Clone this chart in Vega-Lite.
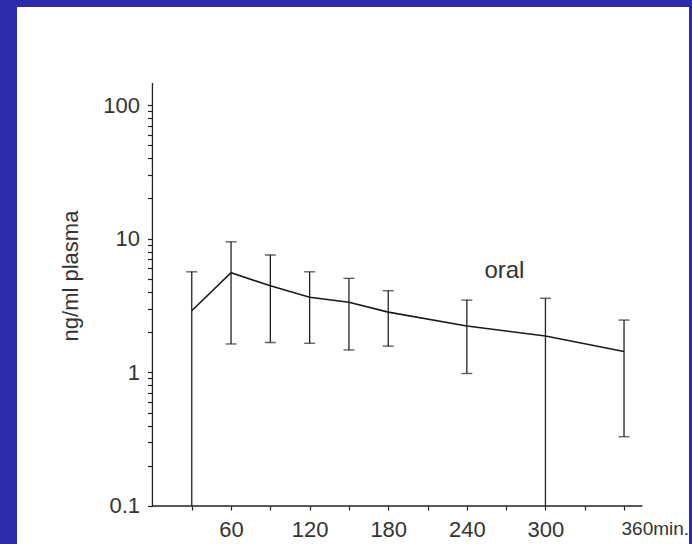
{
  "$schema": "https://vega.github.io/schema/vega-lite/v6.json",
  "autosize": {"type": "none"},
  "width": 672,
  "height": 537,
  "padding": {"left": 17, "top": 7, "right": 3, "bottom": 0},
  "background": "#2b2bab",
  "config": {"view": {"fill": "white", "stroke": null}, "font": "Liberation Sans"},
  "datasets": {
    "pk": [
      {"x": 30, "mean": 2.89, "hi": 5.65, "lo": 0.1},
      {"x": 60, "mean": 5.56, "hi": 9.48, "lo": 1.63},
      {"x": 90, "mean": 4.44, "hi": 7.54, "lo": 1.67},
      {"x": 120, "mean": 3.64, "hi": 5.65, "lo": 1.65},
      {"x": 150, "mean": 3.34, "hi": 5.05, "lo": 1.47},
      {"x": 180, "mean": 2.82, "hi": 4.08, "lo": 1.57},
      {"x": 240, "mean": 2.22, "hi": 3.47, "lo": 0.98},
      {"x": 300, "mean": 1.87, "hi": 3.58, "lo": 0.1},
      {"x": 360, "mean": 1.43, "hi": 2.46, "lo": 0.33}
    ],
    "axes": [
      {"x": 0, "x2": 374, "y": 0.1, "y2": 0.1},
      {"x": 0, "x2": 0, "y": 0.1, "y2": 146}
    ],
    "note": [{"x": 268.7, "y": 5.05, "label": "oral"}]
  },
  "layer": [
    {
      "data": {"name": "axes"},
      "mark": {"type": "rule", "color": "#222", "strokeWidth": 1.3},
      "encoding": {
        "x": {
          "field": "x", "type": "quantitative",
          "scale": {"domain": [-103.4, 409.6], "nice": false, "zero": false},
          "axis": {
            "orient": "bottom", "offset": -38, "domain": false, "grid": false,
            "values": [30, 60, 90, 120, 150, 180, 210, 240, 270, 300, 330, 360],
            "labelExpr": "datum.value % 60 == 0 ? (datum.value == 360 ? '360min.' : datum.label) : ''",
            "labelAlign": {"condition": {"test": "datum.value == 360", "value": "left"}, "value": "center"},
            "labelOffset": {"condition": {"test": "datum.value == 360", "value": -3}, "value": 0},
            "labelFontSize": {"condition": {"test": "datum.value == 360", "value": 19}, "value": 22},
            "labelColor": "#333", "labelFont": "Liberation Sans",
            "tickSize": 4, "tickColor": "#222", "tickWidth": 1.2,
            "labelPadding": 9, "labelFlush": false, "labelOverlap": false,
            "title": null
          }
        },
        "x2": {"field": "x2"},
        "y": {
          "field": "y", "type": "quantitative",
          "scale": {"type": "log", "domain": [0.05196, 541], "nice": false, "zero": false},
          "axis": {
            "orient": "left", "offset": -135.5, "domain": false, "grid": false,
            "values": [0.1, 0.2, 0.3, 0.4, 0.5, 0.6, 0.7, 0.8, 0.9, 1, 2, 3, 4, 5, 6, 7, 8, 9, 10, 20, 30, 40, 50, 60, 70, 80, 90, 100],
            "labelExpr": "datum.value == 0.1 ? '0.1' : datum.value == 1 ? '1' : datum.value == 10 ? '10' : datum.value == 100 ? '100' : ''",
            "labelFontSize": 22, "labelColor": "#333", "labelFont": "Liberation Sans",
            "tickSize": 5, "tickColor": "#222", "tickWidth": 1.2,
            "labelPadding": 8, "labelFlush": false, "labelOverlap": false,
            "title": "ng/ml plasma", "titleFontSize": 22, "titleFontWeight": "normal",
            "titleColor": "#333", "titleFont": "Liberation Sans", "titlePadding": 20
          }
        },
        "y2": {"field": "y2"}
      }
    },
    {
      "data": {"name": "pk"},
      "mark": {"type": "rule", "color": "#222", "strokeWidth": 1.3},
      "encoding": {
        "x": {"field": "x", "type": "quantitative"},
        "y": {"field": "lo", "type": "quantitative"},
        "y2": {"field": "hi"}
      }
    },
    {
      "data": {"name": "pk"},
      "mark": {"type": "tick", "orient": "horizontal", "size": 11, "thickness": 1.4, "color": "#222"},
      "encoding": {
        "x": {"field": "x", "type": "quantitative"},
        "y": {"field": "hi", "type": "quantitative"}
      }
    },
    {
      "data": {"name": "pk"},
      "transform": [{"filter": "datum.lo > 0.1"}],
      "mark": {"type": "tick", "orient": "horizontal", "size": 11, "thickness": 1.4, "color": "#222"},
      "encoding": {
        "x": {"field": "x", "type": "quantitative"},
        "y": {"field": "lo", "type": "quantitative"}
      }
    },
    {
      "data": {"name": "pk"},
      "mark": {"type": "line", "color": "#1a1a1a", "strokeWidth": 1.6},
      "encoding": {
        "x": {"field": "x", "type": "quantitative"},
        "y": {"field": "mean", "type": "quantitative"}
      }
    },
    {
      "data": {"name": "note"},
      "mark": {"type": "text", "fontSize": 24, "color": "#333", "font": "Liberation Sans", "align": "center", "baseline": "alphabetic"},
      "encoding": {
        "x": {"field": "x", "type": "quantitative"},
        "y": {"field": "y", "type": "quantitative"},
        "text": {"field": "label"}
      }
    }
  ]
}
